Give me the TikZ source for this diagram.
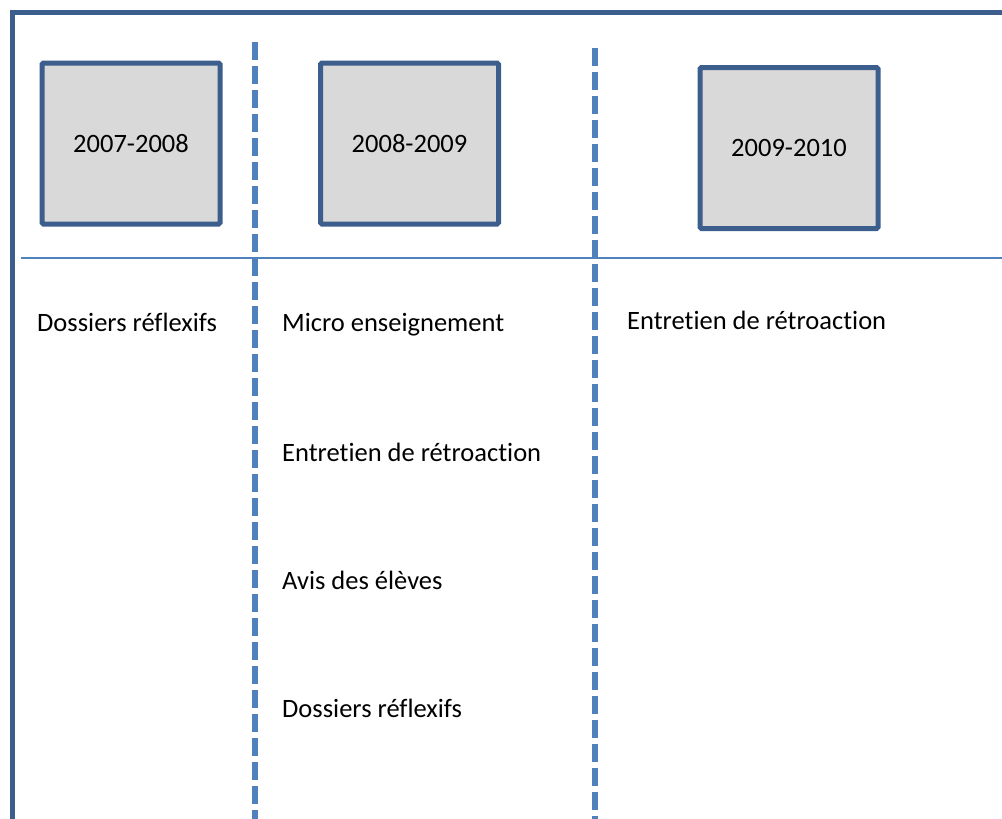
\documentclass[tikz,border=0pt]{standalone}
\usepackage{fontspec}
\setmainfont{Carlito}[Ligatures=NoCommon]
\usepackage{tikz}
\definecolor{framecol}{HTML}{3B5E8C}
\definecolor{sepcol}{HTML}{4F81BD}
\definecolor{boxfill}{HTML}{D9D9D9}
\tikzset{
	yearbox/.style={
		rectangle,
		draw=framecol,
		fill=boxfill,
		line width=5pt,
		rounded corners=1.5pt,
		minimum width=178pt,
		minimum height=161pt,
		font=\fontsize{26.5}{31}\selectfont
	},
	item/.style={
		anchor=west,
		inner sep=0pt,
		font=\fontsize{26.5}{31}\selectfont
	},
	frameline/.style={draw=framecol, line width=5pt},
	colsep/.style={draw=sepcol, line width=6pt, dash pattern=on 18pt off 6pt},
	rowsep/.style={draw=sepcol, line width=2.5pt}
}

\begin{document}
\begin{tikzpicture}[x=1pt,y=-1pt]
\useasboundingbox (0,0) rectangle (1002,819);

% frame
\coordinate (fbl) at (12,822);
\coordinate (ftl) at (12,12);
\coordinate (ftr) at (1005,12);
\draw[frameline] (fbl) -- (ftl) -- (ftr);

% columns
\coordinate (s1t) at (255,42);
\coordinate (s1b) at (255,822);
\coordinate (s2t) at (595,48);
\coordinate (s2b) at (595,822);
\draw[colsep] (s1t) -- (s1b);
\draw[colsep] (s2t) -- (s2b);

% row line
\coordinate (rl) at (21,258);
\coordinate (rr) at (1005,258);
\draw[rowsep] (rl) -- (rr);

% years
\node[yearbox] (y1) at (131,143.5) {2007-2008};
\node[yearbox] (y2) at (409.5,143.5) {2008-2009};
\node[yearbox] (y3) at (789,148) {2009-2010};

% activities
\node[item] (a1) at (37,322) {Dossiers réflexifs};
\node[item] (b1) at (282,325) {Micro enseignement};
\node[item] (b2) at (282,452) {Entretien de rétroaction};
\node[item] (b3) at (282,580) {Avis des élèves};
\node[item] (b4) at (282,708) {Dossiers réflexifs};
\node[item] (c1) at (627,320) {Entretien de rétroaction};
\end{tikzpicture}
\end{document}
